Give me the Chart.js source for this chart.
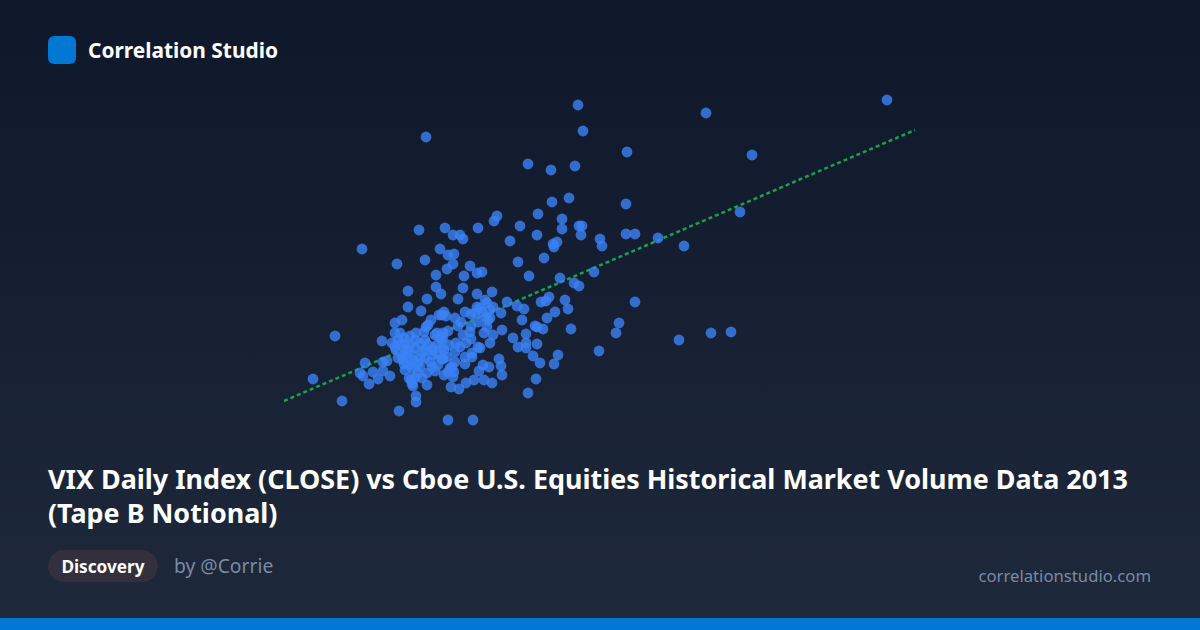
<!DOCTYPE html>
<html>
<head>
<meta charset="utf-8">
<title>Correlation Studio</title>
<script src="https://cdn.jsdelivr.net/npm/chart.js@4"></script>
<style>
  * { margin: 0; padding: 0; box-sizing: border-box; }
  body {
    width: 1200px; height: 630px; overflow: hidden; position: relative;
    background: linear-gradient(180deg, #0f172a 0%, #1e293b 100%);
    font-family: "Noto Sans", sans-serif; color: #fff;
  }
  #logo { position: absolute; left: 48px; top: 36px; width: 28px; height: 28px; border-radius: 6px; background: #0078d4; }
  #brand { position: absolute; left: 88px; top: 35px; font-size: 20.9px; font-weight: 700; line-height: 30px; }
  #plot { position: absolute; left: 260px; top: 80px; width: 680px; height: 360px; }
  #title { position: absolute; left: 48px; top: 462px; width: 1104px; font-size: 26.9px; font-weight: 700; line-height: 34px; }
  #tag { position: absolute; left: 48px; top: 550px; height: 32px; width: 110px; border-radius: 16px; background: #332f3d; font-size: 17.2px; font-weight: 700; line-height: 33px; text-align: center; }
  #author { position: absolute; left: 174px; top: 552px; font-size: 19.3px; line-height: 28px; color: #7a8aa3; }
  #site { position: absolute; right: 49px; top: 562px; font-size: 16.7px; line-height: 28px; color: #7a8aa3; }
  #bar { position: absolute; left: 0; top: 618px; width: 1200px; height: 12px; background: #0078d4; }
</style>
</head>
<body>
<div id="logo"></div>
<div id="brand">Correlation Studio</div>
<div id="plot"><canvas id="chart" width="680" height="360"></canvas></div>
<div id="title">VIX Daily Index (CLOSE) vs Cboe U.S. Equities Historical Market Volume Data 2013 (Tape B Notional)</div>
<div id="tag">Discovery</div>
<div id="author">by @Corrie</div>
<div id="site">correlationstudio.com</div>
<div id="bar"></div>
<script>
// valores (sem eixos visiveis, unidades estimadas)
const vixClose = [
  15.56,15.66,12.52,14.56,15.02,15.50,15.38,15.04,14.76,15.24,13.94,13.88,13.56,14.40,12.38,12.90,13.06,13.20,13.26,14.20,
  14.74,15.24,15.58,15.64,15.62,16.00,16.04,15.14,15.06,15.08,11.24,12.80,12.96,13.08,12.50,14.36,14.88,11.94,21.74,18.12,
  16.54,19.04,16.52,18.80,16.52,16.70,17.16,17.68,16.70,16.38,16.32,17.58,18.22,18.62,15.98,14.58,15.20,15.88,15.48,15.58,
  14.98,14.92,14.82,15.30,15.36,15.10,14.94,15.42,14.14,14.34,14.48,14.44,14.70,14.74,14.86,14.04,14.52,14.26,14.36,14.52,
  14.52,14.74,14.66,14.80,15.16,15.08,14.72,14.56,13.46,12.96,14.04,14.02,13.98,13.78,13.66,13.58,13.68,13.84,13.48,13.32,
  13.18,13.02,13.30,12.88,13.06,13.08,13.04,13.10,12.94,12.86,13.44,13.30,13.44,13.56,13.60,13.42,13.32,13.20,13.12,13.80,
  13.86,13.68,13.74,13.80,13.72,14.02,13.86,13.84,13.54,13.26,13.16,12.82,13.64,13.54,13.40,13.28,13.06,12.94,13.70,13.74,
  13.54,13.60,13.80,13.50,13.42,13.76,13.42,13.22,13.16,12.88,12.92,12.84,12.96,12.86,12.84,12.86,12.84,12.72,12.16,12.54,
  12.72,12.16,12.42,12.04,11.90,10.70,10.26,10.84,11.98,12.32,12.32,11.64,11.90,12.00,11.84,11.90,12.10,12.32,12.30,12.50,
  12.50,12.62,12.52,12.56,12.78,12.74,12.80,12.66,12.66,12.84,11.74,11.66,11.30,11.20,11.26,11.46,11.66,11.38,11.56,11.80,
  12.06,12.10,12.24,12.24,12.40,12.54,12.36,12.18,12.24,12.26,12.54,12.64,12.70,13.00,12.04,12.14,12.26,12.36,12.96,12.20,
  12.40,11.92,12.00,12.16,12.50,12.22,12.64,12.74,12.48,
  11.96,12.08,12.20,12.10,11.96,12.30,12.44,12.56,12.70,12.40,12.60,12.76,12.20,12.08,12.30,12.44,12.76,12.88,12.98,13.10,
  13.26,13.40,13.56,13.64,13.30,13.10
];
const tapeBNotional = [
  51.5,48.9,48.3,45.6,45.0,45.4,42.2,41.8,40.6,40.1,40.4,39.9,39.2,39.4,39.0,39.2,38.5,38.5,38.1,37.9,
  38.5,39.1,39.4,39.4,38.5,38.1,37.4,37.8,37.6,37.3,37.1,37.1,36.5,36.6,36.0,35.8,36.2,35.6,52.0,50.7,
  46.8,46.5,41.6,40.8,38.6,38.6,38.2,37.4,31.8,29.7,28.7,28.0,28.7,28.8,26.9,34.4,34.2,34.8,33.7,33.4,
  32.3,31.9,31.8,32.0,31.1,30.8,30.2,29.1,31.8,31.4,31.1,30.0,29.4,29.3,29.1,29.0,28.6,28.2,27.3,27.7,
  27.2,27.6,26.4,25.7,26.5,25.6,24.1,22.7,20.0,20.0,24.5,25.4,26.1,25.3,25.5,24.9,24.0,23.7,24.0,23.7,
  23.1,23.3,25.6,24.5,24.3,24.8,25.3,25.8,26.3,26.1,26.3,26.3,26.7,27.3,27.2,28.1,27.7,27.3,27.7,27.7,
  28.5,28.7,29.3,30.2,30.3,30.7,31.3,32.8,32.6,33.2,32.1,32.6,34.8,34.7,35.4,34.4,35.6,35.1,32.0,31.7,
  31.3,31.2,31.0,30.7,30.6,30.0,29.4,29.8,29.4,30.8,30.4,30.5,28.9,28.7,28.0,28.3,27.2,34.5,32.9,32.1,
  33.3,31.3,30.9,30.0,29.7,28.4,24.1,21.9,20.9,22.4,21.8,27.9,28.7,28.7,27.7,27.3,27.6,28.7,28.0,28.0,
  27.0,30.0,29.3,29.5,30.5,28.7,28.2,27.2,26.5,26.1,25.9,25.8,25.7,24.7,24.4,24.8,24.9,23.6,24.1,24.4,
  26.0,25.0,26.0,25.2,25.3,24.7,24.7,24.2,23.6,23.4,23.5,25.3,24.9,25.2,26.3,27.0,26.5,25.7,24.8,27.5,
  27.7,27.0,27.5,26.8,26.2,24.0,27.0,27.5,28.8,
  28.0,28.2,28.4,26.5,26.2,27.2,26.8,27.5,28.5,26.2,25.8,26.5,25.5,25.6,24.2,24.2,25.5,27.0,27.5,26.8,
  28.5,28.8,29.8,30.8,30.8,30.2
];
const trendX = [9.68, 22.30];
const trendY = [21.9, 49.0];

const points = vixClose.map((x, i) => ({ x: x, y: tapeBNotional[i] }));
const trend = trendX.map((x, i) => ({ x: x, y: trendY[i] }));

new Chart(document.getElementById('chart'), {
  type: 'scatter',
  data: {
    datasets: [
      {
        label: 'Tape B Notional',
        data: points,
        order: 1,
        pointRadius: 5.4,
        pointHoverRadius: 5.4,
        borderWidth: 0,
        backgroundColor: 'rgba(59, 130, 246, 0.8)'
      },
      {
        type: 'line',
        label: 'Trend',
        data: trend,
        order: 2,
        pointRadius: 0,
        borderWidth: 2.5,
        borderDash: [4, 3],
        borderColor: '#16a34a',
        fill: false
      }
    ]
  },
  options: {
    responsive: false,
    animation: false,
    layout: { padding: 0, autoPadding: false },
    plugins: { legend: { display: false }, tooltip: { enabled: false } },
    scales: {
      x: { type: 'linear', display: false, min: 9.2, max: 22.8 },
      y: { type: 'linear', display: false, min: 18, max: 54 }
    }
  }
});
</script>
</body>
</html>
